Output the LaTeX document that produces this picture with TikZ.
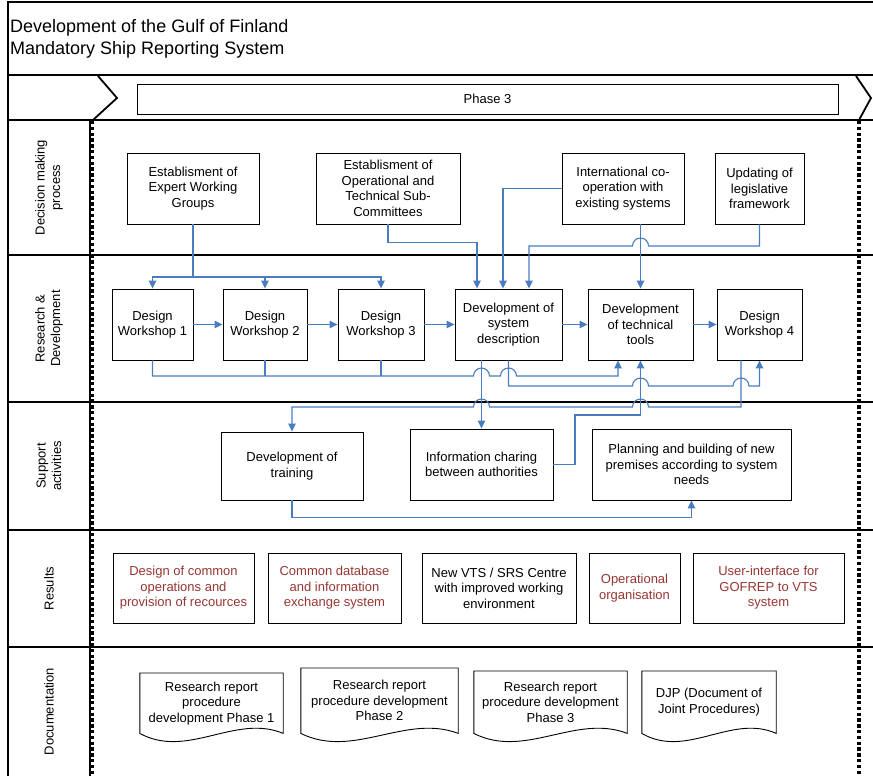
\documentclass[tikz,border=0pt]{standalone}
\usepackage{fontspec}
\setmainfont{Liberation Sans}
\usetikzlibrary{arrows.meta,calc}
\definecolor{connblue}{RGB}{74,124,192}
\definecolor{resred}{RGB}{150,55,53}
\begin{document}
\begin{tikzpicture}[x=1pt,y=-1pt,
  laneline/.style={line width=1.1pt},
  txt/.style={font=\fontsize{13}{15.5}\selectfont},
  box/.style={txt, draw, line width=0.9pt, fill=white, align=center, inner sep=0pt},
  resbox/.style={box, text=resred},
  conn/.style={draw=connblue, line width=1.1pt},
  arr/.style={conn, -{Triangle[length=8pt,width=7.5pt]}},
  lanelabel/.style={txt, rotate=90, align=center, inner sep=0pt},
  docnode/.style={txt, align=center, inner sep=0pt, anchor=north},
  docline/.style={line width=0.9pt},
  chevron/.style={line width=1.8pt, line join=miter},
  separator/.style={line width=4pt, dash pattern=on 3.4pt off 2.4pt}]
\useasboundingbox (0,0) rectangle (873,776);

% ---------- frame, title and phase row ----------
\draw[laneline] (874,2) -- (8,2) -- (8,777);
\foreach \yy in {75,120,255,402,530,647}
  \draw[laneline] (8,\yy) -- (874,\yy);
\draw[laneline] (90,120) -- (90,777);

\node[anchor=west, align=left, inner sep=0pt, font=\fontsize{18}{22}\selectfont]
  (title) at (10,39) {Development of the Gulf of Finland\\Mandatory Ship Reporting System};

\draw[chevron] (98,76) -- (117,98) -- (93,120);
\draw[chevron] (856,76) -- (871,98) -- (859,120);
\node[txt, draw, line width=0.8pt, minimum width=701pt, minimum height=30pt, inner sep=0pt]
  (phase) at (487.5,99) {Phase 3};

% ---------- lane labels ----------
\node[lanelabel] (lDec) at (49,187.5) {Decision making\\process};
\node[lanelabel] (lRnd) at (49,328.5) {Research \&\\Development};
\node[lanelabel] (lSup) at (49,466) {Support\\activities};
\node[lanelabel] (lRes) at (49,588.5) {Results};
\node[lanelabel] (lDoc) at (49,711.5) {Documentation};

% ---------- decision making process ----------
\node[box, minimum width=132pt, minimum height=71pt] (ewg)  at (193,188.5)   {Establisment of\\Expert Working\\Groups};
\node[box, minimum width=144pt, minimum height=71pt] (otsc) at (388,188.5)   {Establisment of\\Operational and\\Technical Sub-\\Committees};
\node[box, minimum width=122pt, minimum height=71pt] (intl) at (623,188.5)   {International co-\\operation with\\existing systems};
\node[box, minimum width=89pt,  minimum height=71pt] (upd)  at (759.5,188.5) {Updating of\\legislative\\framework};

% ---------- research & development ----------
\node[box, minimum width=81pt,  minimum height=71pt] (dw1) at (152.5,324.5) {Design\\Workshop 1};
\node[box, minimum width=84pt,  minimum height=71pt] (dw2) at (265,324.5)   {Design\\Workshop 2};
\node[box, minimum width=86pt,  minimum height=71pt] (dw3) at (381,324.5)   {Design\\Workshop 3};
\node[box, minimum width=107pt, minimum height=71pt] (dsd) at (508.5,324.5) {Development of\\system\\description};
\node[box, minimum width=105pt, minimum height=71pt] (dtt) at (640.5,324.5) {Development\\of technical\\tools};
\node[box, minimum width=85pt,  minimum height=71pt] (dw4) at (759.5,324.5) {Design\\Workshop 4};

% ---------- support activities ----------
\node[box, minimum width=142pt, minimum height=68pt] (train) at (292,466)     {Development of\\training};
\node[box, minimum width=143pt, minimum height=71pt] (info)  at (481.5,464.5) {Information charing\\between authorities};
\node[box, minimum width=199pt, minimum height=71pt] (plan)  at (691.5,464.5) {Planning and building of new\\premises according to system\\needs};

% ---------- results ----------
\node[resbox, minimum width=141pt, minimum height=70pt] (r1) at (183.5,588) {Design of common\\operations and\\provision of recources};
\node[resbox, minimum width=133pt, minimum height=70pt] (r2) at (334.5,588) {Common database\\and information\\exchange system};
\node[box,    minimum width=154pt, minimum height=70pt] (r3) at (499,588)   {New VTS / SRS Centre\\with improved working\\environment};
\node[resbox, minimum width=91pt,  minimum height=70pt] (r4) at (634.5,588) {Operational\\organisation};
\node[resbox, minimum width=151pt, minimum height=70pt] (r5) at (768.5,588) {User-interface for\\GOFREP to VTS\\system};

% ---------- documentation ----------
\node[docnode, minimum width=143pt, minimum height=60pt] (d1) at (211.5,673) {Research report\\procedure\\development Phase 1};
\node[docnode, minimum width=157pt, minimum height=65pt] (d2) at (379.5,668) {Research report\\procedure development\\Phase 2};
\node[docnode, minimum width=153pt, minimum height=62pt] (d3) at (550.5,671) {Research report\\procedure development\\Phase 3};
\node[docnode, minimum width=134pt, minimum height=62pt] (d4) at (709,671)   {DJP (Document of\\Joint Procedures)};
\foreach \d in {d1,d2,d3,d4}
  \draw[docline] (\d.north west) -- (\d.north east) -- (\d.south east)
    .. controls ($(\d.south east)!0.333!(\d.south west)+(0,-20)$)
            and ($(\d.south east)!0.667!(\d.south west)+(0,26)$) .. (\d.south west)
    -- cycle;

% ---------- connectors ----------
% expert working groups feed the first three workshops
\coordinate (jE) at (193,277);
\draw[conn] (ewg.south) -- (jE);
\draw[arr] (jE) -| (dw1.north);
\draw[arr] (jE) -| (dw2.north);
\draw[arr] (jE) -| (dw3.north);

% decision making inputs to R&D
\draw[arr] (otsc.south) -- ++(0,18) -| ([xshift=-31.5pt]dsd.north);
\draw[arr] (intl.west) -| ([xshift=-5.5pt]dsd.north);
\draw[arr] (intl.south -| dtt.north) -- (dtt.north);
\draw[arr] (upd.south) |- (648.5,246) arc[start angle=0,end angle=180,radius=8pt]
  -| ([xshift=20.5pt]dsd.north);

% workshop chain
\draw[arr] (dw1.east) -- (dw2.west);
\draw[arr] (dw2.east) -- (dw3.west);
\draw[arr] (dw3.east) -- (dsd.west);
\draw[arr] (dsd.east) -- (dtt.west);
\draw[arr] (dtt.east) -- (dw4.west);

% workshops 1-3 feed the technical tools
\coordinate (jR) at (152.5,376);
\draw[conn] (dw2.south) -- (dw2.south |- jR);
\draw[conn] (dw3.south) -- (dw3.south |- jR);
\draw[arr] (dw1.south) -- (jR) -- (473.5,376) arc[start angle=180,end angle=0,radius=8pt]
  -- (500.5,376) arc[start angle=180,end angle=0,radius=8pt]
  -| ([xshift=-22.5pt]dtt.south);

% system description to workshop 4
\draw[arr] (dsd.south) |- (632.5,386) arc[start angle=180,end angle=0,radius=8pt]
  -- (733,386) arc[start angle=180,end angle=0,radius=8pt] -| (dw4.south);

% workshop 4 to training
\draw[arr] ([xshift=-18.5pt]dw4.south) |- (648.5,407) arc[start angle=0,end angle=180,radius=8pt]
  -- (489.5,407) arc[start angle=0,end angle=180,radius=8pt] -| (train.north);

% system description to information sharing
\draw[arr] (dsd.south -| info.north) -- (info.north);

% information sharing back to technical tools
\draw[arr] (info.east) -| (575,415) -| (dtt.south);

% training to premises planning
\draw[arr] (train.south) -- ++(0,17) -| (plan.south);

% phase boundaries, drawn over the lane lines
\draw[separator] (91.5,121) -- (91.5,777);
\draw[separator] (859,121) -- (859,777);
\end{tikzpicture}
\end{document}
